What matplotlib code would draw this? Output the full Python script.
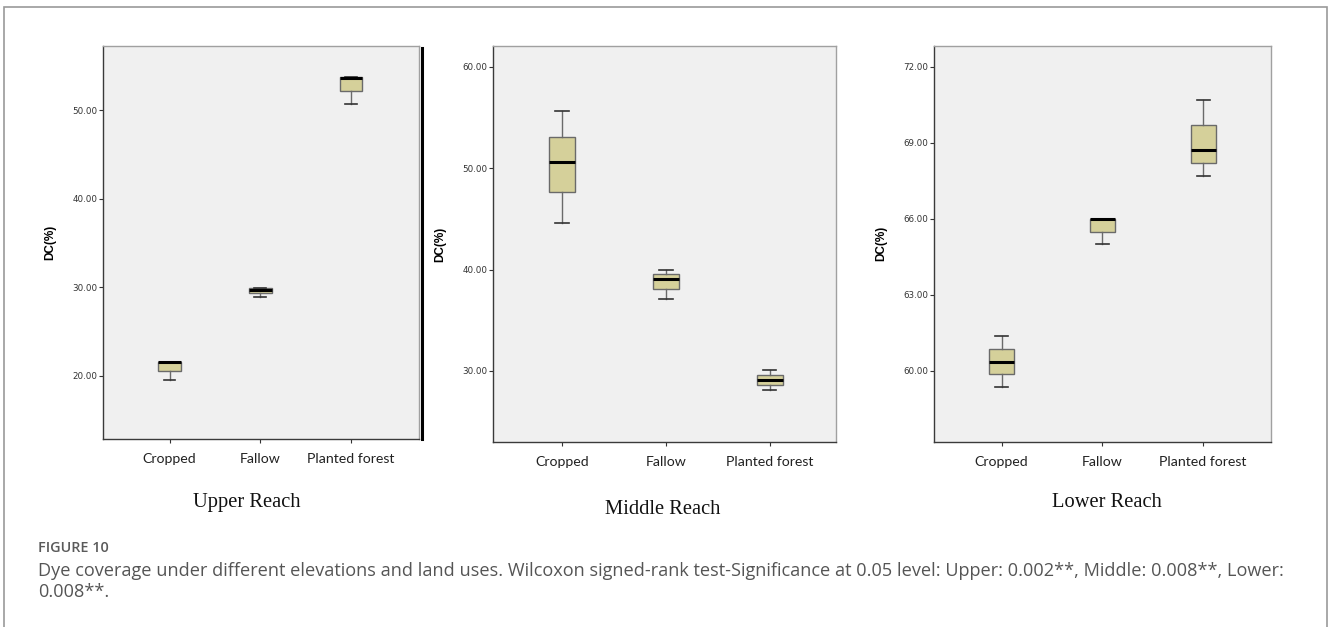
import matplotlib.pyplot as plt
from matplotlib.lines import Line2D
from matplotlib.patches import Rectangle

# land-use classes on every panel
land_uses = ['Cropped', 'Fallow', 'Planted forest']

# five-number summaries of dye coverage DC(%), one list per reach
# order inside each list: Cropped, Fallow, Planted forest
upper_low = [19.55, 28.87, 50.70]
upper_q1 = [20.53, 29.35, 52.15]
upper_med = [21.50, 29.70, 53.70]
upper_q3 = [21.60, 29.92, 53.80]
upper_high = [21.60, 29.92, 53.80]

middle_low = [44.60, 37.08, 28.13]
middle_q1 = [47.60, 38.06, 28.65]
middle_med = [50.60, 39.05, 29.15]
middle_q3 = [53.10, 39.54, 29.64]
middle_high = [55.63, 40.00, 30.10]

lower_low = [59.37, 65.00, 67.70]
lower_q1 = [59.88, 65.50, 68.20]
lower_med = [60.37, 66.00, 68.72]
lower_q3 = [60.87, 66.00, 69.69]
lower_high = [61.39, 66.00, 70.71]

upper_ticks = [20, 30, 40, 50]
middle_ticks = [30, 40, 50, 60]
lower_ticks = [60, 63, 66, 69, 72]

reach_names = ['Upper Reach', 'Middle Reach', 'Lower Reach']

caption_head = 'FIGURE 10'
caption_body = ('Dye coverage under different elevations and land uses. Wilcoxon signed-rank test-Significance '
                'at 0.05 level: Upper: 0.002**, Middle: 0.008**, Lower:\n0.008**.')


def make_stats(low, q1, med, q3, high):
    stats = []
    for i, name in enumerate(land_uses):
        stats.append({'label': name, 'whislo': low[i], 'q1': q1[i], 'med': med[i],
                      'q3': q3[i], 'whishi': high[i], 'fliers': []})
    return stats


panels = [
    (make_stats(upper_low, upper_q1, upper_med, upper_q3, upper_high), upper_ticks,
     [0.0778, 0.2998, 0.2377, 0.6268], (12.84, 57.27), (0.27, 3.75)),
    (make_stats(middle_low, middle_q1, middle_med, middle_q3, middle_high), middle_ticks,
     [0.3715, 0.2946, 0.2581, 0.6320], (22.97, 62.04), (0.34, 3.64)),
    (make_stats(lower_low, lower_q1, lower_med, lower_q3, lower_high), lower_ticks,
     [0.7033, 0.2955, 0.2535, 0.6311], (57.21, 72.82), (0.33, 3.67)),
]

title_pos = [(0.1858, 0.198), (0.4990, 0.187), (0.8336, 0.198)]

box_fill = '#d5d09a'

fig = plt.figure(figsize=(13.28, 6.27), dpi=100)

# thin grey frame round the whole figure
fig.patches.append(Rectangle((0.003, -0.05), 0.996, 1.039, transform=fig.transFigure,
                             fill=False, edgecolor='#9a9a9a', linewidth=1.2))

for k, (stats, ticks, rect, ylim, xlim) in enumerate(panels):
    ax = fig.add_axes(rect)
    ax.set_facecolor('#f0f0f0')
    ax.bxp(stats, positions=[1, 2, 3], widths=0.25, patch_artist=True, showfliers=False,
           boxprops=dict(facecolor=box_fill, edgecolor='#6a6a6a', linewidth=1.0),
           medianprops=dict(color='black', linewidth=2.2),
           whiskerprops=dict(color='#6a6a6a', linewidth=1.0),
           capprops=dict(color='#333333', linewidth=1.2),
           capwidths=0.13)
    ax.set_ylim(*ylim)
    ax.set_xlim(*xlim)
    ax.set_yticks(ticks)
    ax.set_yticklabels(['%.2f' % t for t in ticks], family=['Liberation Sans Narrow', 'DejaVu Sans'],
                       fontsize=6.3, color='#333333')
    ax.set_xticks([1, 2, 3])
    ax.set_xticklabels(land_uses, family=['Lato', 'DejaVu Sans'], fontsize=10.2, color='#222222')
    ax.tick_params(axis='y', length=3, width=0.8, color='#333333', pad=1)
    ax.tick_params(axis='x', length=3, width=0.8, color='#333333', pad=7)
    ax.set_ylabel('DC(%)', fontsize=8.5, fontweight='bold', family=['Liberation Sans', 'DejaVu Sans'],
                  labelpad=12)
    for side in ['left', 'bottom']:
        ax.spines[side].set_color('#3a3a3a')
        ax.spines[side].set_linewidth(1.0)
    for side in ['top', 'right']:
        ax.spines[side].set_color('#a0a0a0')
        ax.spines[side].set_linewidth(1.0)
    fig.text(title_pos[k][0], title_pos[k][1], reach_names[k], ha='center', va='center',
             family=['Liberation Serif', 'DejaVu Serif'], fontsize=14.8, color='#111111')

# heavy black rule on the right edge of the first panel
fig.add_artist(Line2D([0.3177, 0.3177], [0.2998, 0.9234], transform=fig.transFigure,
                      color='black', linewidth=2.2))

fig.text(0.0286, 0.126, caption_head, ha='left', va='center', family=['Open Sans', 'DejaVu Sans'],
         fontsize=10.4, fontweight='semibold', color='#5a5a5a')
fig.text(0.0286, 0.1037, caption_body, ha='left', va='top', family=['Open Sans', 'DejaVu Sans'],
         fontsize=13.1, color='#555555', linespacing=1.2)

fig.savefig('out.png', dpi=100)
